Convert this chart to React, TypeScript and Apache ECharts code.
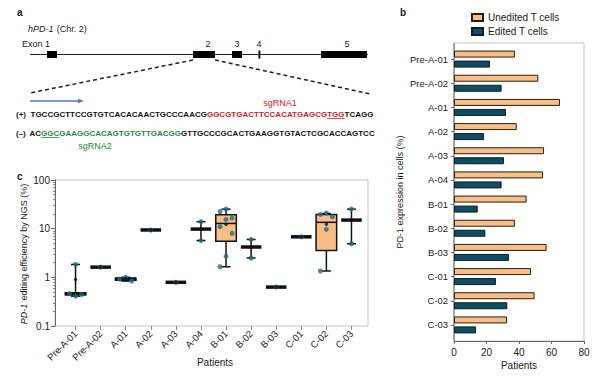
import React, { useEffect, useRef } from "react";
import * as echarts from "echarts";

// ---------- data ----------
const patients = ["Pre-A-01", "Pre-A-02", "A-01", "A-02", "A-03", "A-04", "B-01", "B-02", "B-03", "C-01", "C-02", "C-03"];

// panel b: PD-1 expression (%)
const uneditedPct = [37.5, 51.9, 65.2, 38.6, 55.4, 54.8, 44.7, 37.5, 57.0, 47.4, 49.6, 32.6];
const editedPct = [22.2, 29.3, 32.0, 18.5, 30.8, 29.3, 14.6, 19.3, 33.8, 25.8, 32.8, 13.5];
const xTicksB = [0, 20, 40, 60, 80];

// panel c: NGS editing efficiency (%) box statistics
const boxMin = [0.41, 1.62, 0.84, 9.4, 0.79, 5.7, 1.65, 2.5, 0.63, 6.8, 1.35, 4.9];
const boxQ1 = [0.44, 1.62, 0.87, 9.4, 0.79, 9.8, 5.5, 4.2, 0.63, 6.8, 3.56, 15.0];
const boxMedian = [0.46, 1.62, 0.92, 9.4, 0.79, 9.8, 12.8, 4.2, 0.63, 6.8, 13.5, 15.0];
const boxQ3 = [0.48, 1.62, 0.96, 9.4, 0.79, 9.8, 19.3, 4.2, 0.63, 6.8, 19.6, 15.0];
const boxMax = [1.84, 1.62, 1.0, 9.4, 0.79, 13.9, 25.2, 6.0, 0.63, 6.8, 20.5, 25.2];
const boxMean = [0.9, 1.62, 0.92, 9.4, 0.79, 9.8, 12.3, 4.2, 0.63, 6.8, 12.4, 15.0];
const ngsPoints = [
  [1.84, 0.46, 0.44, 0.41],
  [1.62],
  [1.0, 0.92, 0.84],
  [9.4],
  [0.79],
  [13.9, 5.7],
  [25.2, 22.5, 16.5, 15.5, 11.0, 8.0, 2.7, 1.65],
  [6.0, 2.5],
  [0.63],
  [6.8],
  [20.9, 19.6, 17.6, 9.7, 1.35],
  [25.2, 4.9],
];

// panel a: sequences
const plusLeft = "TGCCGCTTCCGTGTCACACAACTGCCCAACG";
const plusGuide = "GGCGTGACTTCCACATGAGCG";
const plusPam = "TGG";
const plusRight = "TCAGG";
const minusLeft = "AC";
const minusPam = "GGC";
const minusGuide = "GAAGGCACAGTGTGTTGACGG";
const minusRight = "GTTGCCCGCACTGAAGGTGTACTCGCACCAGTCC";

// ---------- styles ----------
const FONT = "'Liberation Sans', Arial, Helvetica, sans-serif";
const ORANGE = "#F7BE86";
const TEAL = "#124C60";
const DOT = "#1B6A84";
const RED = "#C9252C";
const GREEN = "#1F8A3E";
const INK = "#1a1a1a";

function txt(x: number, y: number, text: string, opts: any = {}, extra: any = {}) {
  return {
    type: "text",
    x,
    y,
    silent: true,
    ...extra,
    style: { text, fill: INK, fontSize: 9, fontFamily: FONT, align: "left", verticalAlign: "middle", ...opts },
  };
}

export default function App() {
  const ref = useRef<HTMLDivElement>(null);

  useEffect(() => {
    if (!ref.current) return;
    const chart = echarts.init(ref.current, undefined, { renderer: "svg" });

    // text measurement for sequence underlines
    const cv = document.createElement("canvas").getContext("2d") as CanvasRenderingContext2D;
    const SEQ_SIZE = 8;
    cv.font = `bold ${SEQ_SIZE}px ${FONT}`;
    const w = (s: string) => cv.measureText(s).width;

    const seqX = 30.5;
    const plusY = 114;
    const minusY = 133;
    const seqRich = {
      k: { fill: "#111", fontSize: SEQ_SIZE, fontWeight: "bold", fontFamily: FONT },
      r: { fill: RED, fontSize: SEQ_SIZE, fontWeight: "bold", fontFamily: FONT },
      g: { fill: GREEN, fontSize: SEQ_SIZE, fontWeight: "bold", fontFamily: FONT },
    };
    const plusPamX = seqX + w(plusLeft + plusGuide);
    const minusPamX = seqX + w(minusLeft);

    const graphic: any[] = [
      // panel letters
      txt(17, 12, "a", { fontWeight: "bold", fontSize: 10 }),
      txt(400, 12, "b", { fontWeight: "bold", fontSize: 10 }),
      txt(17, 176, "c", { fontWeight: "bold", fontSize: 10 }),
      // panel a
      {
        type: "text",
        x: 28,
        y: 29,
        silent: true,
        style: {
          text: "{i|hPD-1} {n|(Chr. 2)}",
          verticalAlign: "middle",
          rich: {
            i: { fontStyle: "italic", fontSize: 9, fontFamily: FONT, fill: INK },
            n: { fontSize: 9, fontFamily: FONT, fill: INK },
          },
        },
      },
      txt(22, 44, "Exon 1"),
      txt(208, 44, "2", { align: "center" }),
      txt(237, 44, "3", { align: "center" }),
      txt(259, 44, "4", { align: "center" }),
      txt(347, 44, "5", { align: "center" }),
      { type: "line", silent: true, shape: { x1: 30, y1: 54.5, x2: 368, y2: 54.5 }, style: { stroke: "#222", lineWidth: 1 } },
      { type: "rect", silent: true, shape: { x: 47, y: 51, width: 10, height: 7 }, style: { fill: "#000" } },
      { type: "rect", silent: true, shape: { x: 193, y: 51, width: 22, height: 7 }, style: { fill: "#000" } },
      { type: "rect", silent: true, shape: { x: 232, y: 51, width: 10, height: 7 }, style: { fill: "#000" } },
      { type: "rect", silent: true, shape: { x: 258.5, y: 50.5, width: 1.8, height: 8 }, style: { fill: "#000" } },
      { type: "rect", silent: true, shape: { x: 321, y: 51, width: 46, height: 7 }, style: { fill: "#000" } },
      { type: "line", silent: true, shape: { x1: 193, y1: 60, x2: 30, y2: 93 }, style: { stroke: "#222", lineWidth: 1.5, lineDash: [4, 3] } },
      { type: "line", silent: true, shape: { x1: 215, y1: 60, x2: 370, y2: 94 }, style: { stroke: "#222", lineWidth: 1.5, lineDash: [4, 3] } },
      { type: "line", silent: true, shape: { x1: 30, y1: 101, x2: 80, y2: 101 }, style: { stroke: "#4A7BC4", lineWidth: 1.3 } },
      { type: "polygon", silent: true, shape: { points: [[78, 98.8], [84, 101], [78, 103.2]] }, style: { fill: "#4A7BC4" } },
      txt(280, 103, "sgRNA1", { fill: RED, align: "center" }),
      txt(16, plusY, "(+)", { fontWeight: "bold", fontSize: SEQ_SIZE }),
      {
        type: "text",
        x: seqX,
        y: plusY,
        silent: true,
        style: {
          text: `{k|${plusLeft}}{r|${plusGuide}}{r|${plusPam}}{k|${plusRight}}`,
          verticalAlign: "middle",
          rich: seqRich,
        },
      },
      { type: "line", silent: true, shape: { x1: plusPamX, y1: plusY + 4.5, x2: plusPamX + w(plusPam), y2: plusY + 4.5 }, style: { stroke: RED, lineWidth: 0.8 } },
      txt(16, minusY, "(\u2013)", { fontWeight: "bold", fontSize: SEQ_SIZE }),
      {
        type: "text",
        x: seqX - 1,
        y: minusY,
        silent: true,
        style: {
          text: `{k|${minusLeft}}{g|${minusPam}}{g|${minusGuide}}{k|${minusRight}}`,
          verticalAlign: "middle",
          rich: seqRich,
        },
      },
      { type: "line", silent: true, shape: { x1: minusPamX - 1, y1: minusY + 4.5, x2: minusPamX - 1 + w(minusPam), y2: minusY + 4.5 }, style: { stroke: GREEN, lineWidth: 0.8 } },
      txt(95, 146, "sgRNA2", { fill: GREEN, align: "center" }),
      // panel b frame & labels
      { type: "rect", silent: true, shape: { x: 454, y: 43, width: 130, height: 298 }, style: { fill: "none", stroke: "#c4c4c4", lineWidth: 1 } },
      { type: "line", silent: true, shape: { x1: 454, y1: 43, x2: 454, y2: 341 }, style: { stroke: "#666", lineWidth: 1 } },
      txt(519, 365, "Patients", { align: "center", fontSize: 10 }),
      txt(400, 192, "PD-1 expression in cells (%)", { align: "center" }, { rotation: Math.PI / 2 }),
      // panel c frame & labels
      { type: "rect", silent: true, shape: { x: 55, y: 180, width: 313, height: 146 }, style: { fill: "none", stroke: "#c4c4c4", lineWidth: 1 } },
      txt(215, 362, "Patients", { align: "center", fontSize: 10 }),
      {
        type: "text",
        x: 24,
        y: 254,
        rotation: Math.PI / 2,
        silent: true,
        style: {
          text: "{i|PD-1} {n|editing efficiency by NGS (%)}",
          align: "center",
          verticalAlign: "middle",
          rich: {
            i: { fontStyle: "italic", fontSize: 9, fontFamily: FONT, fill: INK },
            n: { fontSize: 9, fontFamily: FONT, fill: INK },
          },
        },
      },
    ];

    const boxData = patients.map((_, i) => [i, boxMin[i], boxQ1[i], boxMedian[i], boxQ3[i], boxMax[i]]);
    const jitter = [0, -6, 6];
    const pointData: any[] = [];
    ngsPoints.forEach((vals, i) => {
      vals.forEach((v, j) => {
        const off = vals.length <= 2 ? 0 : jitter[j % 3];
        pointData.push({ value: [i, v], symbolOffset: [off, 0] });
      });
    });
    const meanData = patients.map((_, i) => [i, boxMean[i]]);

    const option: any = {
      animation: false,
      backgroundColor: "#fff",
      textStyle: { fontFamily: FONT },
      graphic,
      legend: {
        orient: "vertical",
        left: 471,
        top: 12,
        itemWidth: 11,
        itemHeight: 7,
        itemGap: 3,
        padding: 0,
        icon: "rect",
        textStyle: { fontSize: 10, color: INK, fontFamily: FONT, lineHeight: 11 },
        data: ["Unedited T cells", "Edited T cells"],
      },
      grid: [
        { left: 63, top: 180, width: 301, height: 146 },
        { left: 454, top: 47, width: 130, height: 290 },
      ],
      xAxis: [
        {
          gridIndex: 0,
          type: "category",
          data: patients,
          boundaryGap: true,
          axisLine: { show: false },
          axisTick: { show: true, alignWithLabel: true, length: 4, lineStyle: { color: "#888" } },
          axisLabel: { rotate: 45, fontSize: 9.5, color: INK, margin: 6, fontFamily: FONT },
        },
        {
          gridIndex: 1,
          type: "value",
          min: 0,
          max: 80,
          interval: 20,
          offset: 4,
          data: xTicksB,
          axisLine: { show: true, lineStyle: { color: "#666" } },
          axisTick: { show: true, length: 3, lineStyle: { color: "#666" } },
          axisLabel: { fontSize: 10, color: INK, margin: 6, fontFamily: FONT },
          splitLine: { show: false },
        },
      ],
      yAxis: [
        {
          gridIndex: 0,
          type: "log",
          logBase: 10,
          min: 0.1,
          max: 100,
          offset: 8,
          axisLine: { show: true, lineStyle: { color: "#666" } },
          axisTick: { show: true, length: 4, lineStyle: { color: "#666" } },
          minorTick: { show: true, splitNumber: 9, length: 2, lineStyle: { color: "#888" } },
          axisLabel: { fontSize: 10, color: INK, margin: 5, fontFamily: FONT, formatter: (v: number) => String(v) },
          splitLine: { show: false },
        },
        {
          gridIndex: 1,
          type: "category",
          inverse: true,
          data: patients,
          axisLine: { show: false },
          axisTick: { show: true, alignWithLabel: true, length: 3, lineStyle: { color: "#666" } },
          axisLabel: { fontSize: 9.5, color: INK, margin: 6, fontFamily: FONT },
        },
      ],
      series: [
        {
          type: "custom",
          name: "box",
          xAxisIndex: 0,
          yAxisIndex: 0,
          z: 2,
          data: boxData,
          renderItem: (params: any, api: any) => {
            const i = api.value(0);
            const x = api.coord([i, api.value(3)])[0];
            const yMin = api.coord([i, api.value(1)])[1];
            const yQ1 = api.coord([i, api.value(2)])[1];
            const yMed = api.coord([i, api.value(3)])[1];
            const yQ3 = api.coord([i, api.value(4)])[1];
            const yMax = api.coord([i, api.value(5)])[1];
            const band = api.coord([1, 1])[0] - api.coord([0, 1])[0];
            const bw = band * 0.82;
            const cap = 9;
            const st = { stroke: "#111", lineWidth: 1.5 };
            const children: any[] = [];
            if (yMin - yMax > 0.5) {
              children.push({ type: "line", shape: { x1: x, y1: yMin, x2: x, y2: yMax }, style: st });
              children.push({ type: "line", shape: { x1: x - cap / 2, y1: yMin, x2: x + cap / 2, y2: yMin }, style: st });
              children.push({ type: "line", shape: { x1: x - cap / 2, y1: yMax, x2: x + cap / 2, y2: yMax }, style: st });
            }
            const collapsed = yQ1 - yQ3 < 4;
            if (yQ1 - yQ3 > 0.3) {
              children.push({
                type: "rect",
                shape: { x: x - bw / 2, y: yQ3, width: bw, height: yQ1 - yQ3 },
                style: { fill: ORANGE, stroke: "#111", lineWidth: 1.5 },
              });
            }
            children.push({
              type: "line",
              shape: { x1: x - bw / 2, y1: yMed, x2: x + bw / 2, y2: yMed },
              style: { stroke: "#111", lineWidth: collapsed ? 3.5 : 1.5 },
            });
            return { type: "group", children };
          },
        },
        {
          type: "scatter",
          name: "points",
          xAxisIndex: 0,
          yAxisIndex: 0,
          z: 3,
          symbol: "circle",
          symbolSize: 5,
          itemStyle: { color: DOT },
          data: pointData,
        },
        {
          type: "scatter",
          name: "mean",
          xAxisIndex: 0,
          yAxisIndex: 0,
          z: 4,
          symbol: "circle",
          symbolSize: 3.5,
          itemStyle: { color: "#111" },
          data: meanData,
        },
        {
          type: "bar",
          name: "Unedited T cells",
          xAxisIndex: 1,
          yAxisIndex: 1,
          barWidth: 7,
          barGap: "43%",
          itemStyle: { color: ORANGE, borderColor: "#2a1e14", borderWidth: 1 },
          data: uneditedPct,
        },
        {
          type: "bar",
          name: "Edited T cells",
          xAxisIndex: 1,
          yAxisIndex: 1,
          barWidth: 7,
          itemStyle: { color: TEAL, borderColor: "#0a1e26", borderWidth: 1 },
          data: editedPct,
        },
      ],
    };
    chart.setOption(option);
    return () => chart.dispose();
  }, []);

  return <div ref={ref} style={{ width: 600, height: 376, position: "absolute", left: 0, top: 0 }} />;
}
